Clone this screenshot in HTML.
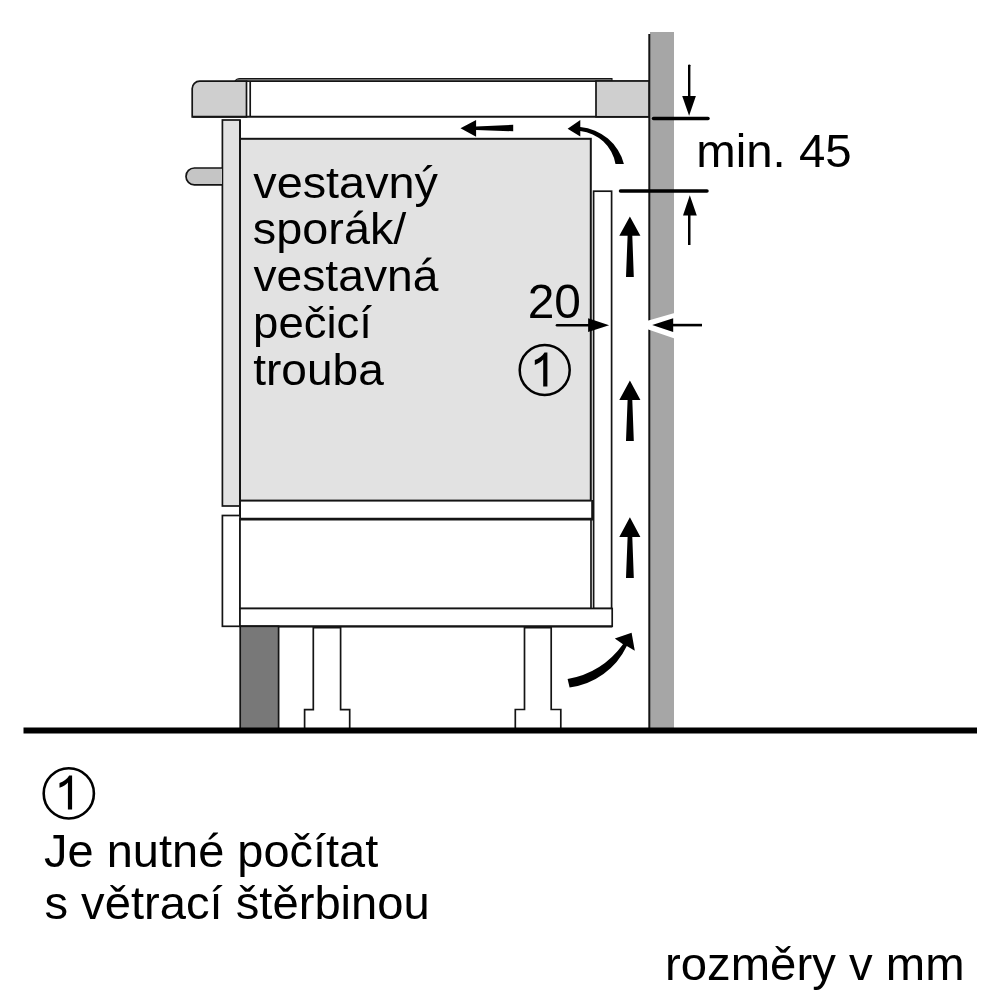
<!DOCTYPE html>
<html><head><meta charset="utf-8">
<style>
html,body{margin:0;padding:0;background:#fff;width:1000px;height:1000px;overflow:hidden}
svg{display:block;will-change:transform}
text{font-family:"Liberation Sans",sans-serif;fill:#000}
</style></head>
<body>
<svg width="1000" height="1000" viewBox="0 0 1000 1000">
<rect x="0" y="0" width="1000" height="1000" fill="#fff"/>
<g stroke="#141414" stroke-width="1.7" fill="none">
  <!-- wall -->
  <rect x="650" y="32" width="24" height="698" fill="#a6a6a6" stroke="none"/>
  <line x1="649.3" y1="34" x2="649.3" y2="730" stroke-width="2"/>
  <!-- hob glass -->
  <path d="M234.8 81.2 Q236.5 78.5 240 78.5 H612 V81.2" fill="#6e6e6e" stroke-width="1.1"/>
  <!-- countertop left -->
  <path d="M192.2 116.8 V88.6 A7.5 7.5 0 0 1 199.7 81.1 H246.5 V116.8 Z" fill="#cfcfcf"/>
  <line x1="250.2" y1="81" x2="250.2" y2="116.8"/>
  <line x1="246.5" y1="81.2" x2="649" y2="81.2" stroke-width="1.4"/>
  <line x1="192.5" y1="116.8" x2="649" y2="116.8" stroke-width="2"/>
  <!-- countertop right -->
  <rect x="596" y="81" width="53" height="35.8" fill="#cfcfcf"/>
  <!-- oven side panel -->
  <rect x="222.4" y="120" width="17.6" height="386" fill="#e2e2e2"/>
  <!-- knob -->
  <path d="M222 168 H194.4 A8.4 8.4 0 0 0 194.4 184.8 H222" fill="#c5c5c5"/>
  <!-- oven front -->
  <rect x="240" y="138.8" width="350.8" height="361.8" fill="#e2e2e2" stroke-width="2"/>
  <line x1="240" y1="120" x2="240" y2="626.3" stroke-width="2"/>
  <!-- lower panel -->
  <rect x="222.4" y="515.5" width="17.6" height="110.8" fill="#fff"/>
  <!-- vent panel -->
  <rect x="593.6" y="191.2" width="18" height="417.3" fill="#fff"/>
  <!-- drawer -->
  <rect x="240" y="519" width="351" height="89.5" fill="#fff"/>
  <line x1="240" y1="519.2" x2="593" y2="519.2" stroke-width="2.8"/>
  <line x1="592.6" y1="500" x2="592.6" y2="520" stroke-width="2.8"/>
  <!-- base -->
  <rect x="240" y="608.5" width="372.2" height="17.8" fill="#fff"/>
  <line x1="240" y1="626.5" x2="612.2" y2="626.5" stroke-width="2.2"/>
  <!-- plinth -->
  <rect x="240.2" y="626.3" width="38.4" height="103" fill="#787878"/>
  <!-- legs -->
  <path d="M304.6 729 V709.6 H313.3 V627.6 H340.6 V709.6 H349.7 V729" fill="none"/>
  <path d="M515.3 729 V709.5 H524.5 V627.6 H551.2 V709.5 H560.8 V729" fill="none"/>
</g>
<!-- floor -->
<rect x="23.5" y="727.5" width="953.5" height="6" fill="#000"/>

<!-- dimension min 45 -->
<g fill="#000" stroke="none">
  <rect x="688" y="65" width="2.4" height="32"/>
  <circle cx="689.2" cy="65.6" r="1.2"/>
  <polygon points="682.2,95.9 695.9,95.9 689.1,115.8"/>
  <polygon points="689.8,195.2 696.8,215.6 683,215.6"/>
  <rect x="688" y="214" width="2.5" height="31"/>
</g>
<line x1="653.5" y1="118.5" x2="708" y2="118.5" stroke="#000" stroke-width="3.5" stroke-linecap="round"/>
<line x1="620.5" y1="191.1" x2="707" y2="191.1" stroke="#000" stroke-width="3.5" stroke-linecap="round"/>
<text x="696.24" y="166.9" font-size="47" textLength="155.36" lengthAdjust="spacingAndGlyphs">min. 45</text>

<!-- 20 dimension -->
<text x="527.64" y="317.7" font-size="48" textLength="53.21" lengthAdjust="spacingAndGlyphs">20</text>
<line x1="557" y1="325.3" x2="590" y2="325.3" stroke="#000" stroke-width="2.6" stroke-linecap="round"/>
<polygon points="588.1,318.3 609.1,325.2 588.1,332" fill="#000"/>
<polygon points="647.5,320.8 674.5,313 674.5,338.4 647.5,329.2" fill="#fff"/>
<polygon points="652.2,325.1 673.2,318.2 673.2,332" fill="#000"/>
<line x1="672" y1="325.1" x2="702" y2="325.1" stroke="#000" stroke-width="2.6"/>

<!-- circle 1 in oven -->
<circle cx="544.7" cy="370" r="25" fill="none" stroke="#000" stroke-width="2.5"/>
<path d="M547.4 352.6 V386.5 H543.2 V359.6 C541.7 361.6 538.4 363.6 534.8 364.9 V360.1 C538.9 358.6 542.4 356.1 544.5 352.6 Z" fill="#000"/>

<!-- vertical up arrows -->
<g fill="#000">
  <path d="M629.9 216.6 L640.4 235.8 L632.3 235.8 L633.8 277 L626 277 L627.6 235.8 L619.3 235.8 Z"/>
  <path d="M629.9 380.4 L640.4 400 L632.3 400 L633.8 441 L626 441 L627.6 400 L619.3 400 Z"/>
  <path d="M629.9 517.2 L640.4 536.9 L632.3 536.9 L633.8 578 L626 578 L627.6 536.9 L619.3 536.9 Z"/>
  <!-- top straight left arrow -->
  <path d="M460.5 128.3 L476.1 119.9 L476.1 126.4 L513.2 124.75 L513.2 131.25 L476.1 130 L476.1 136.8 Z"/>
  <!-- top curved arrow -->
  <path d="M567.6 128.8 L580.3 120 L580.3 127 A49.7 49.7 0 0 1 623.9 163.9 L615.5 163.9 A40 40 0 0 0 580.3 131 L580.3 136.6 Z"/>
  <!-- bottom curved arrow -->
  <path d="M569.6 687.5 L567.6 679 A87.8 87.8 0 0 0 623 644.2 L614.8 638.4 L631.6 632.8 L634.8 650.8 L626.8 646 A73.8 73.8 0 0 1 569.6 687.5 Z"/>
</g>

<!-- oven text -->
<text x="253.29" y="197.6" font-size="44.5" textLength="184.73" lengthAdjust="spacingAndGlyphs">vestavný</text>
<text x="252.89" y="244.4" font-size="44.5" textLength="153.51" lengthAdjust="spacingAndGlyphs">sporák/</text>
<text x="253.5" y="291.2" font-size="44.5" textLength="184.85" lengthAdjust="spacingAndGlyphs">vestavná</text>
<text x="253.1" y="337.8" font-size="44.5" textLength="118.9" lengthAdjust="spacingAndGlyphs">pečicí</text>
<text x="253.19" y="385.2" font-size="44.5" textLength="130.63" lengthAdjust="spacingAndGlyphs">trouba</text>

<!-- legend -->
<circle cx="68.8" cy="793.4" r="25.1" fill="none" stroke="#000" stroke-width="2.6"/>
<path d="M72.1 775.5 V809.4 H67.9 V782.5 C66.4 784.5 63.1 786.5 59.5 787.8 V783.0 C63.6 781.5 67.1 779.0 69.2 775.5 Z" fill="#000"/>
<text x="44.14" y="866.5" font-size="45.6" textLength="334.12" lengthAdjust="spacingAndGlyphs">Je nutné počítat</text>
<text x="44.42" y="919.2" font-size="45.6" textLength="385.4" lengthAdjust="spacingAndGlyphs">s větrací štěrbinou</text>
<text x="665.02" y="980.2" font-size="46.5" textLength="299.53" lengthAdjust="spacingAndGlyphs">rozměry v mm</text>
</svg>
</body></html>
